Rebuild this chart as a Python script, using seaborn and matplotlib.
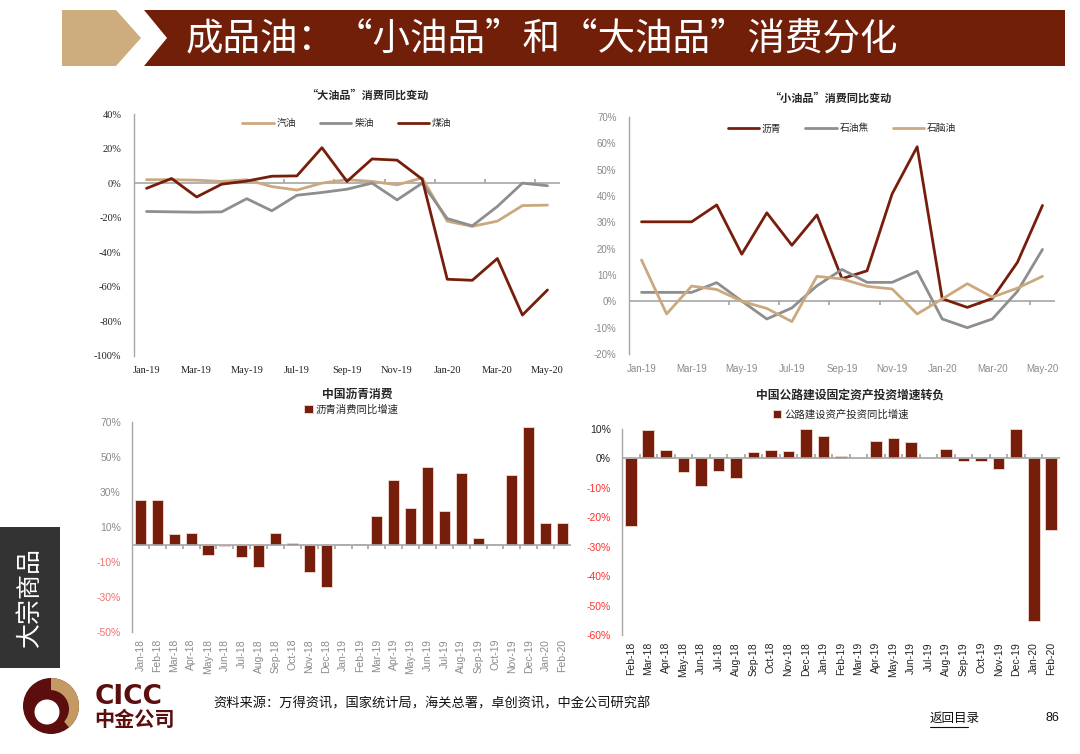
import numpy as np
import pandas as pd
import matplotlib
matplotlib.use('Agg')
import matplotlib.pyplot as plt
import seaborn as sns
from matplotlib.patches import Polygon, Rectangle, Wedge, Circle
from matplotlib.lines import Line2D

# ---------------- data ----------------
months_line = ['Jan-19', 'Feb-19', 'Mar-19', 'Apr-19', 'May-19', 'Jun-19', 'Jul-19', 'Aug-19',
               'Sep-19', 'Oct-19', 'Nov-19', 'Dec-19', 'Jan-20', 'Feb-20', 'Mar-20', 'Apr-20', 'May-20']
big_names = ['汽油', '柴油', '煤油']
gasoline = [2, 2, 1.7, 1, 2, -2, -4, 0, 2, 1, -1, 3, -22, -25, -22, -13, -12.7]
diesel = [-16.4, -16.6, -16.8, -16.6, -9, -16, -7, -5.4, -3.5, 0, -9.7, 0, -20.5, -24.7, -13.5, 0, -1.5]
kerosene = [-3, 2.7, -8, -0.6, 1.2, 4, 4.2, 20.5, 1, 14, 13.3, 2.3, -55.6, -56.2, -43.6, -76.3, -61.8]

small_names = ['沥青', '石油焦', '石脑油']
asphalt = [30.2, 30.2, 30.2, 36.6, 17.9, 33.6, 21.3, 32.8, 8.6, 11.6, 40.8, 58.7, 1, -2.3, 1.1, 14.8, 36.4]
petcoke = [3.4, 3.4, 3.4, 7.1, 0.1, -6.7, -2.5, 5.9, 12.1, 7.2, 7.2, 11.4, -6.7, -10, -6.7, 3.8, 19.7]
naphtha = [15.7, -4.8, 5.8, 4.5, 0, -2.7, -7.7, 9.5, 8.5, 5.7, 4.7, -4.8, 0.9, 6.7, 1.6, 5, 9.5]

asphalt_months = ['Jan-18', 'Feb-18', 'Mar-18', 'Apr-18', 'May-18', 'Jun-18', 'Jul-18', 'Aug-18', 'Sep-18',
                  'Oct-18', 'Nov-18', 'Dec-18', 'Jan-19', 'Feb-19', 'Mar-19', 'Apr-19', 'May-19', 'Jun-19',
                  'Jul-19', 'Aug-19', 'Sep-19', 'Oct-19', 'Nov-19', 'Dec-19', 'Jan-20', 'Feb-20']
asphalt_yoy = [25.6, 25.6, 5.8, 6.8, -6.2, -1, -7.1, -12.7, 6.4, 1, -15.5, -24.1, 0.5, 0.5, 16.5, 37,
               20.9, 44.5, 19.1, 41, 3.9, 0.2, 39.9, 67, 12.3, 12.3]

road_months = ['Feb-18', 'Mar-18', 'Apr-18', 'May-18', 'Jun-18', 'Jul-18', 'Aug-18', 'Sep-18', 'Oct-18',
               'Nov-18', 'Dec-18', 'Jan-19', 'Feb-19', 'Mar-19', 'Apr-19', 'May-19', 'Jun-19', 'Jul-19',
               'Aug-19', 'Sep-19', 'Oct-19', 'Nov-19', 'Dec-19', 'Jan-20', 'Feb-20']
road_yoy = [-22.8, 9.5, 2.8, -4.6, -9.2, -4.2, -6.6, 2.2, 2.8, 2.4, 10.1, 7.6, 0.7, 0.3, 5.9, 6.9, 5.5,
            0.3, 3.2, -1, -0.8, -3.5, 10.1, -55.4, -24.2]

# ---------------- style ----------------
DARK = '#761E0B'
TAN = '#CBA97E'
GRAY = '#8E8E8E'
AXGRAY = '#A6A6A6'
CJK = ['Noto Sans CJK SC', 'DejaVu Sans']

sns.set_theme(style='white')
plt.rcParams['font.family'] = ['Liberation Sans', 'Noto Sans CJK SC', 'DejaVu Sans']

fig = plt.figure(figsize=(10.8, 7.54), dpi=100)
ov = fig.add_axes([0, 0, 1, 1])
ov.set_xlim(0, 1080)
ov.set_ylim(754, 0)
ov.axis('off')
ov.patch.set_alpha(0)


def rect(l, t, r, b):
    return [l / 1080, 1 - b / 754, (r - l) / 1080, (b - t) / 754]


# ---------------- header / decorations ----------------
ov.add_patch(Polygon([(62, 10), (116, 10), (141, 38), (116, 66), (62, 66)], closed=True,
                     facecolor='#CDAD7E', edgecolor='none'))
ov.add_patch(Polygon([(144, 10), (1065, 10), (1065, 66), (144, 66), (167, 38)], closed=True,
                     facecolor='#721F0A', edgecolor='none'))
ov.text(186, 39, '成品油：“小油品”和“大油品”消费分化', color='white', fontsize=27,
        family=CJK, va='center', ha='left')

ov.add_patch(Rectangle((0, 527), 60, 141, facecolor='#333333', edgecolor='none'))
ov.text(30, 597, '大宗商品', color='white', fontsize=18, family=CJK, rotation=90,
        va='center', ha='center')

# logo
ov.add_patch(Circle((51, 706), 28, facecolor='#5C0E0E', edgecolor='none'))
ov.add_patch(Wedge((51, 706), 28, -90, 50, facecolor='#C39A62', edgecolor='none'))
ov.add_patch(Circle((50, 709), 19, facecolor='#5C0E0E', edgecolor='none'))
ov.add_patch(Circle((47, 712), 12.5, facecolor='white', edgecolor='none'))
ov.text(95, 697, 'CICC', color='#5C0E0E', fontsize=19, fontweight='bold', family=['DejaVu Sans'],
        va='center', ha='left')
ov.text(94, 719, '中金公司', color='#5C0E0E', fontsize=14.5, fontweight='bold', family=CJK,
        va='center', ha='left')

ov.text(213, 704, '资料来源：万得资讯，国家统计局，海关总署，卓创资讯，中金公司研究部', fontsize=9.5,
        family=CJK, color='#111111', va='center', ha='left')
ov.text(930, 718, '返回目录', fontsize=9, family=CJK, color='#111111', va='center', ha='left')
ov.add_line(Line2D([930, 968], [727, 727], color='#111111', lw=0.8))
ov.text(1045, 718, '86', fontsize=9, color='#111111', va='center', ha='left')

# chart titles
ov.text(367, 95, '“大油品”消费同比变动', fontsize=8, fontweight='bold', family=CJK, ha='center', va='center')
ov.text(830, 98, '“小油品”消费同比变动', fontsize=8, fontweight='bold', family=CJK, ha='center', va='center')
ov.text(357, 394, '中国沥青消费', fontsize=8.5, fontweight='bold', family=CJK, ha='center', va='center')
ov.text(850, 395, '中国公路建设固定资产投资增速转负', fontsize=8.5, fontweight='bold', family=CJK,
        ha='center', va='center')


def zero_ticks(ax, ylo, yhi, positions):
    sec = ax.secondary_xaxis((0 - ylo) / (yhi - ylo))
    sec.set_xticks(positions)
    sec.set_xticklabels([])
    sec.tick_params(length=3, color=AXGRAY, labelbottom=False, labeltop=False, direction='out')
    for s in sec.spines.values():
        s.set_visible(False)


# ---------------- line charts ----------------
def line_chart(box, names, vals, colors, ylo, yhi, step, tick_color, tick_family, tick_size, leg_y):
    ax = fig.add_axes(rect(*box))
    n = len(months_line)
    df = pd.DataFrame({
        'idx': np.tile(np.arange(n), len(names)),
        'series': np.repeat(names, n),
        'value': np.concatenate([np.asarray(v, dtype=float) for v in vals]),
    })
    ax.axhline(0, color=AXGRAY, lw=1.2, zorder=1)
    sns.lineplot(data=df, x='idx', y='value', hue='series', hue_order=names,
                 palette=colors, linewidth=2, ax=ax, zorder=3)
    ax.set_xlim(-0.5, n - 0.5)
    ax.set_ylim(ylo, yhi)
    yt = np.arange(ylo, yhi + 1, step)
    ax.set_yticks(yt)
    ax.set_yticklabels([f'{v}%' for v in yt], family=tick_family, color=tick_color, fontsize=tick_size)
    ax.set_xticks(np.arange(0, n, 2))
    ax.set_xticklabels(months_line[::2], family=tick_family, color=tick_color, fontsize=tick_size)
    ax.set_xlabel('')
    ax.set_ylabel('')
    ax.tick_params(axis='both', length=0)
    ax.tick_params(axis='y', pad=9)
    ax.tick_params(axis='x', pad=7)
    sns.despine(ax=ax, top=True, right=True, bottom=True)
    ax.spines['left'].set_color(AXGRAY)
    ax.spines['left'].set_linewidth(1)
    zero_ticks(ax, ylo, yhi, np.arange(3.5, n, 2))
    sns.move_legend(ax, 'upper center', bbox_to_anchor=(0.5, leg_y), ncol=3, frameon=False,
                    title=None, prop={'family': CJK, 'size': 7}, handlelength=3.2,
                    columnspacing=2.5, handletextpad=0.3)
    ax.set_facecolor('none')
    return ax


line_chart((134, 114, 560, 356), big_names, [gasoline, diesel, kerosene], [TAN, GRAY, DARK],
           -100, 40, 20, '#222222', ['Liberation Serif', 'DejaVu Serif'], 7.5, 1.02)
line_chart((629, 117, 1055, 354), small_names, [asphalt, petcoke, naphtha], [DARK, GRAY, TAN],
           -20, 70, 10, '#8A8A8A', ['Liberation Sans', 'DejaVu Sans'], 7, 1.01)


# ---------------- bar charts ----------------
def bar_chart(box, cats, vals, label, ylo, yhi, step, pos_color, neg_color, xcolor, leg_y):
    ax = fig.add_axes(rect(*box))
    sns.barplot(x=cats, y=vals, color=DARK, saturation=1, width=0.66, edgecolor='#F0DCD4',
                linewidth=0.6, ax=ax, label=label, zorder=3)
    ax.axhline(0, color=AXGRAY, lw=1.2, zorder=4)
    ax.set_xlim(-0.5, len(cats) - 0.5)
    ax.set_ylim(ylo, yhi)
    yt = np.arange(yhi, ylo - 1, -step)
    ax.set_yticks(yt)
    ax.set_yticklabels([f'{v}%' for v in yt], fontsize=7.5)
    for t, v in zip(ax.get_yticklabels(), yt):
        t.set_color(neg_color if v < 0 else pos_color)
    ax.set_xticks(np.arange(len(cats)))
    ax.set_xticklabels(cats, rotation=90, fontsize=7.5, color=xcolor)
    ax.set_xlabel('')
    ax.set_ylabel('')
    ax.tick_params(axis='both', length=0)
    ax.tick_params(axis='y', pad=8)
    ax.tick_params(axis='x', pad=5)
    sns.despine(ax=ax, top=True, right=True, bottom=True)
    ax.spines['left'].set_color(AXGRAY)
    ax.spines['left'].set_linewidth(1)
    zero_ticks(ax, ylo, yhi, np.arange(0.5, len(cats) - 0.5, 1))
    ax.legend(loc='lower center', bbox_to_anchor=(0.5, leg_y), frameon=False,
              prop={'family': CJK, 'size': 7.5}, handlelength=0.8, handleheight=0.8,
              handletextpad=0.3)
    ax.set_facecolor('none')
    return ax


bar_chart((132, 422, 571, 632), asphalt_months, asphalt_yoy, '沥青消费同比增速',
          -50, 70, 20, '#8A8A8A', '#F07070', '#8A8A8A', 0.99)
bar_chart((622, 429, 1060, 635), road_months, road_yoy, '公路建设资产投资同比增速',
          -60, 10, 10, '#222222', '#FF3030', '#222222', 1.0)

fig.savefig('out.png', dpi=100)
